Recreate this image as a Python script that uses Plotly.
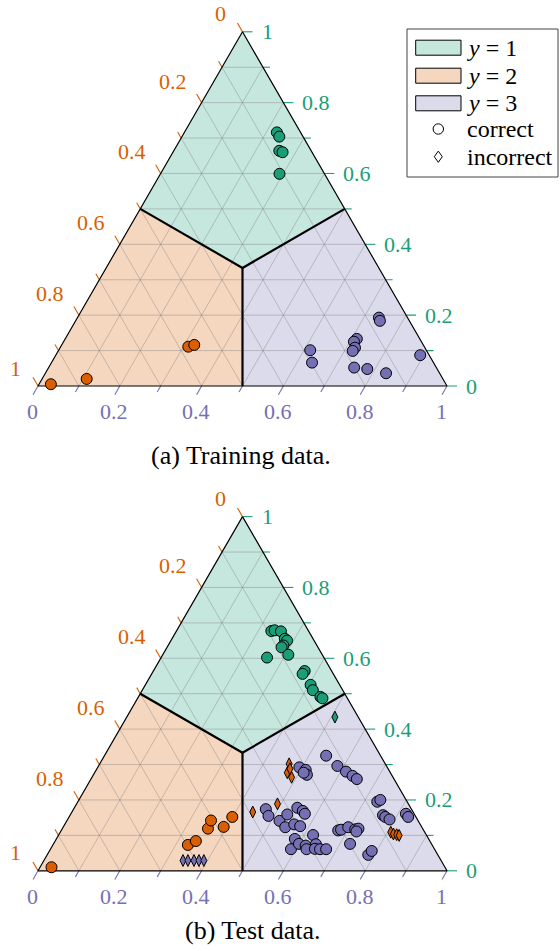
import numpy as np
import plotly.graph_objects as go

# Predicted class probabilities (p(y=1), p(y=2), p(y=3)) per sample,
# grouped by true class and by whether the prediction was correct.

# ---- (a) training data ----
train_y1_ok_p1 = [0.716, 0.704, 0.664, 0.660, 0.599]
train_y1_ok_p2 = [0.058, 0.058, 0.078, 0.072, 0.110]
train_y1_ok_p3 = [0.226, 0.238, 0.258, 0.268, 0.291]

train_y2_ok_p1 = [0.005, 0.020, 0.111, 0.116]
train_y2_ok_p2 = [0.966, 0.871, 0.577, 0.560]
train_y2_ok_p3 = [0.029, 0.109, 0.312, 0.324]

train_y3_ok_p1 = [0.193, 0.184, 0.133, 0.125, 0.108, 0.099, 0.101, 0.066, 0.052, 0.048, 0.036, 0.087]
train_y3_ok_p2 = [0.070, 0.072, 0.154, 0.165, 0.171, 0.181, 0.284, 0.297, 0.201, 0.171, 0.131, 0.022]
train_y3_ok_p3 = [0.737, 0.744, 0.713, 0.710, 0.721, 0.720, 0.615, 0.637, 0.747, 0.781, 0.833, 0.891]

# ---- (b) test data ----
test_y1_ok_p1 = [0.677, 0.679, 0.676, 0.655, 0.650, 0.636, 0.631, 0.610, 0.602, 0.564, 0.556, 0.525, 0.510, 0.491, 0.487]
test_y1_ok_p2 = [0.091, 0.082, 0.068, 0.069, 0.066, 0.082, 0.089, 0.083, 0.139, 0.066, 0.075, 0.071, 0.073, 0.064, 0.061]
test_y1_ok_p3 = [0.232, 0.239, 0.256, 0.276, 0.284, 0.282, 0.280, 0.307, 0.259, 0.370, 0.369, 0.404, 0.417, 0.445, 0.452]

test_y1_bad_p1 = [0.434]
test_y1_bad_p2 = [0.057]
test_y1_bad_p3 = [0.509]

test_y2_ok_p1 = [0.010, 0.073, 0.084, 0.119, 0.142, 0.124, 0.152]
test_y2_ok_p2 = [0.962, 0.597, 0.572, 0.525, 0.506, 0.484, 0.449]
test_y2_ok_p3 = [0.028, 0.330, 0.344, 0.356, 0.352, 0.392, 0.399]

test_y2_bad_p1 = [0.302, 0.277, 0.264, 0.288, 0.189, 0.166, 0.109, 0.104, 0.102, 0.100]
test_y2_bad_p2 = [0.235, 0.252, 0.248, 0.240, 0.320, 0.392, 0.083, 0.079, 0.072, 0.067]
test_y2_bad_p3 = [0.463, 0.471, 0.488, 0.472, 0.491, 0.442, 0.808, 0.817, 0.826, 0.833]

test_y3_ok_p1 = [0.292, 0.285, 0.271, 0.277, 0.325, 0.296, 0.280, 0.268, 0.259, 0.195, 0.200, 0.157,
                 0.152, 0.145, 0.161, 0.152, 0.114, 0.116, 0.123, 0.117, 0.119, 0.111, 0.076, 0.045,
                 0.056, 0.174, 0.155, 0.141, 0.159, 0.178, 0.169, 0.161, 0.123, 0.131, 0.126, 0.090,
                 0.061, 0.076, 0.071, 0.061, 0.101, 0.075, 0.062, 0.061, 0.061]
test_y3_ok_p2 = [0.215, 0.203, 0.207, 0.212, 0.133, 0.120, 0.107, 0.097, 0.091, 0.073, 0.063, 0.078,
                 0.075, 0.068, 0.020, 0.019, 0.209, 0.201, 0.180, 0.166, 0.157, 0.166, 0.199, 0.170,
                 0.156, 0.356, 0.359, 0.339, 0.311, 0.277, 0.268, 0.267, 0.334, 0.308, 0.296, 0.327,
                 0.351, 0.324, 0.310, 0.313, 0.277, 0.283, 0.292, 0.280, 0.265]
test_y3_ok_p3 = [0.493, 0.512, 0.522, 0.511, 0.542, 0.584, 0.613, 0.635, 0.650, 0.732, 0.737, 0.765,
                 0.773, 0.787, 0.819, 0.829, 0.677, 0.683, 0.697, 0.717, 0.724, 0.723, 0.725, 0.785,
                 0.788, 0.470, 0.486, 0.520, 0.530, 0.545, 0.563, 0.572, 0.543, 0.561, 0.578, 0.583,
                 0.588, 0.600, 0.619, 0.626, 0.622, 0.642, 0.646, 0.659, 0.674]

test_y3_bad_p1 = [0.029, 0.029, 0.029, 0.029, 0.029]
test_y3_bad_p2 = [0.631, 0.619, 0.604, 0.592, 0.580]
test_y3_bad_p3 = [0.340, 0.352, 0.367, 0.379, 0.391]

tick_values = [0.0, 0.2, 0.4, 0.6, 0.8, 1.0]
tick_labels = ["0", "0.2", "0.4", "0.6", "0.8", "1"]
legend_labels = ["<i>y</i> = 1", "<i>y</i> = 2", "<i>y</i> = 3"]
captions = ["(a) Training data.", "(b) Test data."]

# ---- styling ----
COLORS = ["#1b9e77", "#d95f02", "#7570b3"]
FILLS = ["rgba(27,158,119,0.25)", "rgba(217,95,2,0.25)", "rgba(117,112,179,0.25)"]
FONT = "'Liberation Serif', 'DejaVu Serif', serif"
W, H = 560, 951
SIDE_PX = 409.0          # pixel length of a triangle side
LEFT_PX = 38.0           # pixel x of the bottom-left corner
BASE_PX = [386.0, 870.8]  # pixel y of the triangle base in each panel
SQ3 = np.sqrt(3) / 2


def tern_xy(p1, p2, p3):
    """Barycentric (p1 top, p2 bottom-left, p3 bottom-right) -> plane."""
    p1, p2, p3 = (np.asarray(v, dtype=float) for v in (p1, p2, p3))
    s = p1 + p2 + p3
    return (p3 + 0.5 * p1) / s, SQ3 * p1 / s


def seg_trace(segs, color, width, xa, ya):
    xs, ys = [], []
    for (xa_, ya_), (xb_, yb_) in segs:
        xs += [xa_, xb_, None]
        ys += [ya_, yb_, None]
    return go.Scatter(x=xs, y=ys, mode="lines", line=dict(color=color, width=width),
                      hoverinfo="skip", xaxis=xa, yaxis=ya, showlegend=False)


fig = go.Figure()

x_range = [-LEFT_PX / SIDE_PX, (W - LEFT_PX) / SIDE_PX]
y_ranges = [
    [(BASE_PX[0] - H / 2) / SIDE_PX, BASE_PX[0] / SIDE_PX],
    [(BASE_PX[1] - H) / SIDE_PX, (BASE_PX[1] - H / 2) / SIDE_PX],
]

panels = [
    dict(xa="x", ya="y",
         groups=[
             (train_y1_ok_p1, train_y1_ok_p2, train_y1_ok_p3, 0, "circle"),
             (train_y2_ok_p1, train_y2_ok_p2, train_y2_ok_p3, 1, "circle"),
             (train_y3_ok_p1, train_y3_ok_p2, train_y3_ok_p3, 2, "circle"),
         ]),
    dict(xa="x2", ya="y2",
         groups=[
             (test_y1_ok_p1, test_y1_ok_p2, test_y1_ok_p3, 0, "circle"),
             (test_y2_ok_p1, test_y2_ok_p2, test_y2_ok_p3, 1, "circle"),
             (test_y3_ok_p1, test_y3_ok_p2, test_y3_ok_p3, 2, "circle"),
             (test_y1_bad_p1, test_y1_bad_p2, test_y1_bad_p3, 0, "diamond-tall"),
             (test_y2_bad_p1, test_y2_bad_p2, test_y2_bad_p3, 1, "diamond-tall"),
             (test_y3_bad_p1, test_y3_bad_p2, test_y3_bad_p3, 2, "diamond-tall"),
         ]),
]

third = 1.0 / 3.0
# argmax decision regions, as barycentric polygons
regions = [
    [(1, 0, 0), (0.5, 0.5, 0), (third, third, third), (0.5, 0, 0.5)],
    [(0, 1, 0), (0, 0.5, 0.5), (third, third, third), (0.5, 0.5, 0)],
    [(0, 0, 1), (0.5, 0, 0.5), (third, third, third), (0, 0.5, 0.5)],
]

grid_steps = [k / 10 for k in range(1, 10)]
tick_steps = [k / 10 for k in range(11)]

for panel in panels:
    xa, ya = panel["xa"], panel["ya"]

    # filled class regions
    for poly, fc in zip(regions, FILLS):
        px, py = tern_xy(*zip(*(poly + [poly[0]])))
        fig.add_trace(go.Scatter(x=px, y=py, mode="lines", fill="toself", fillcolor=fc,
                                 line=dict(width=0), hoverinfo="skip", showlegend=False,
                                 xaxis=xa, yaxis=ya))

    # grid, 0.1 spacing for every component
    segs = []
    for v in grid_steps:
        segs.append((tern_xy(v, 1 - v, 0), tern_xy(v, 0, 1 - v)))
        segs.append((tern_xy(1 - v, v, 0), tern_xy(0, v, 1 - v)))
        segs.append((tern_xy(1 - v, 0, v), tern_xy(0, 1 - v, v)))
    fig.add_trace(seg_trace(segs, "rgba(120,120,120,0.38)", 1, xa, ya))

    # tick marks: p(y=1) on right edge, p(y=2) on left edge, p(y=3) on bottom edge
    tick_dirs = [(1.0, 0.0), (-0.5, SQ3), (-0.5, -SQ3)]
    for ci in range(3):
        segs = []
        for i, v in enumerate(tick_steps):
            length = (10.0 if i % 2 == 0 else 7.0) / SIDE_PX
            if ci == 0:
                x0, y0 = tern_xy(v, 0, 1 - v)
            elif ci == 1:
                x0, y0 = tern_xy(1 - v, v, 0)
            else:
                x0, y0 = tern_xy(0, 1 - v, v)
            dx, dy = tick_dirs[ci]
            segs.append(((float(x0), float(y0)), (float(x0 + dx * length), float(y0 + dy * length))))
        fig.add_trace(seg_trace(segs, COLORS[ci], 1.1, xa, ya))

    # triangle outline
    ox, oy = tern_xy([1, 0, 0, 1], [0, 1, 0, 0], [0, 0, 1, 0])
    fig.add_trace(go.Scatter(x=ox, y=oy, mode="lines", line=dict(color="black", width=1.2),
                             hoverinfo="skip", showlegend=False, xaxis=xa, yaxis=ya))

    # decision boundaries from the centroid to the edge midpoints
    c = tern_xy(third, third, third)
    mids = [tern_xy(0.5, 0.5, 0), tern_xy(0.5, 0, 0.5), tern_xy(0, 0.5, 0.5)]
    fig.add_trace(seg_trace([((float(c[0]), float(c[1])), (float(m[0]), float(m[1]))) for m in mids],
                            "black", 2.2, xa, ya))

    # samples
    for p1, p2, p3, ci, sym in panel["groups"]:
        sx, sy = tern_xy(p1, p2, p3)
        fig.add_trace(go.Scatter(
            x=sx, y=sy, mode="markers", showlegend=False, xaxis=xa, yaxis=ya,
            marker=dict(symbol=sym, size=11 if sym == "circle" else 8.5, color=COLORS[ci],
                        line=dict(color="black", width=1)),
        ))

    # tick labels
    for v, txt in zip(tick_values, tick_labels):
        single = len(txt) == 1
        gx, gy = tern_xy(v, 0, 1 - v)
        fig.add_annotation(x=float(gx), y=float(gy), xref=xa, yref=ya, text=txt, showarrow=False,
                           xanchor="left", yanchor="middle", xshift=18, yshift=0, borderpad=0,
                           font=dict(family=FONT, size=22, color=COLORS[0]))
        bx, by = tern_xy(1 - v, v, 0)
        fig.add_annotation(x=float(bx), y=float(by), xref=xa, yref=ya, text=txt, showarrow=False,
                           xanchor="right", yanchor="middle",
                           xshift=-16 if single else -13.5, yshift=18 if single else 21.5,
                           borderpad=0, font=dict(family=FONT, size=22, color=COLORS[1]))
        cx, cy = tern_xy(0, 1 - v, v)
        fig.add_annotation(x=float(cx), y=float(cy), xref=xa, yref=ya, text=txt, showarrow=False,
                           xanchor="center", yanchor="middle", xshift=-5.5, yshift=-25.5,
                           borderpad=0, font=dict(family=FONT, size=22, color=COLORS[2]))

fig.update_layout(
    width=W, height=H, margin=dict(l=0, r=0, t=0, b=0),
    paper_bgcolor="white", plot_bgcolor="white", showlegend=False,
    font=dict(family=FONT),
    xaxis=dict(domain=[0, 1], range=x_range, visible=False, fixedrange=True),
    yaxis=dict(domain=[0.5, 1], range=y_ranges[0], visible=False, fixedrange=True),
    xaxis2=dict(domain=[0, 1], range=x_range, visible=False, anchor="y2", fixedrange=True),
    yaxis2=dict(domain=[0, 0.5], range=y_ranges[1], visible=False, anchor="x2", fixedrange=True),
)


# ---- legend (paper coordinates from pixel positions) ----
def pxx(v):
    return v / W


def pxy(v):
    return 1 - v / H


fig.add_shape(type="rect", xref="paper", yref="paper", x0=pxx(407), x1=pxx(558), y0=pxy(177), y1=pxy(29),
              line=dict(color="#444444", width=1), fillcolor="white")
row_y = [47.7, 75.7, 103.3, 129.0, 156.7]
for i in range(3):
    fig.add_shape(type="rect", xref="paper", yref="paper",
                  x0=pxx(415.7), x1=pxx(461), y0=pxy(row_y[i] + 7.5), y1=pxy(row_y[i] - 7.5),
                  line=dict(color="black", width=1), fillcolor=FILLS[i])
    fig.add_annotation(x=pxx(466), y=pxy(row_y[i]), xref="paper", yref="paper", text=legend_labels[i],
                       showarrow=False, xanchor="left", yanchor="middle", borderpad=0,
                       font=dict(family=FONT, size=24, color="black"))
cxm = 438.3
fig.add_shape(type="circle", xref="paper", yref="paper",
              x0=pxx(cxm - 5.2), x1=pxx(cxm + 5.2), y0=pxy(row_y[3] + 5.2), y1=pxy(row_y[3] - 5.2),
              line=dict(color="black", width=1), fillcolor="white")
dy4 = row_y[4]
fig.add_shape(type="path", xref="paper", yref="paper",
              path=f"M {pxx(cxm)} {pxy(dy4 - 5.6)} L {pxx(cxm + 4.0)} {pxy(dy4)} "
                   f"L {pxx(cxm)} {pxy(dy4 + 5.6)} L {pxx(cxm - 4.0)} {pxy(dy4)} Z",
              line=dict(color="black", width=1), fillcolor="white")
for txt, yy in (("correct", row_y[3]), ("incorrect", row_y[4])):
    fig.add_annotation(x=pxx(466), y=pxy(yy), xref="paper", yref="paper", text=txt,
                       showarrow=False, xanchor="left", yanchor="middle", borderpad=0,
                       font=dict(family=FONT, size=24, color="black"))

# ---- captions ----
for txt, cxp, cyp in ((captions[0], 241, 455.5), (captions[1], 252.7, 930)):
    fig.add_annotation(x=pxx(cxp), y=pxy(cyp), xref="paper", yref="paper", text=txt,
                       showarrow=False, xanchor="center", yanchor="middle", borderpad=0,
                       font=dict(family=FONT, size=26, color="black"))

fig.write_html("out.html")
